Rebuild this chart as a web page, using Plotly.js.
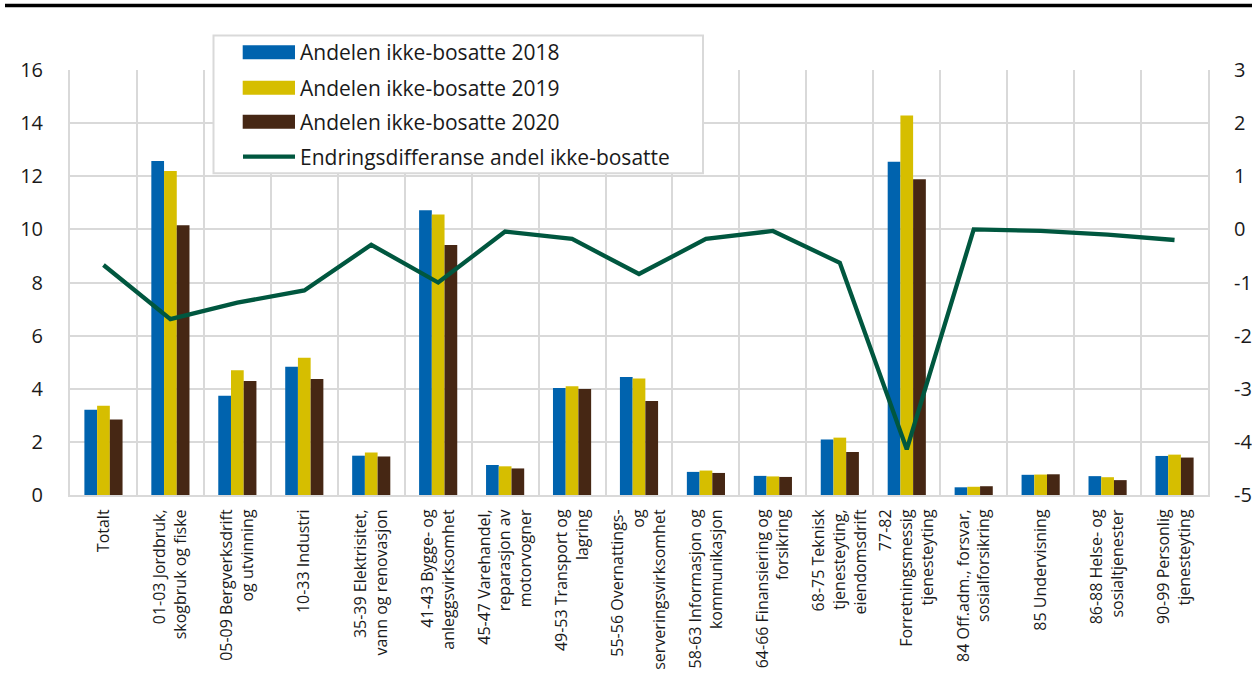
<!DOCTYPE html>
<html>
<head>
<meta charset="utf-8">
<script src="https://cdn.plot.ly/plotly-3.0.1.min.js"></script>
<style>html,body{margin:0;padding:0;background:#fff;}#chart{width:1252px;height:673px;}</style>
</head>
<body>
<div id="chart"></div>
<script>
const categories = ["Totalt","01-03","05-09","10-33","35-39","41-43","45-47","49-53","55-56","58-63","64-66","68-75","77-82","84","85","86-88","90-99"];
const tickLabels = [
  "Totalt",
  "01-03 Jordbruk,<br>skogbruk og fiske",
  "05-09 Bergverksdrift<br>og utvinning",
  "10-33 Industri",
  "35-39 Elektrisitet,<br>vann og renovasjon",
  "41-43 Bygge- og<br>anleggsvirksomhet",
  "45-47 Varehandel,<br>reparasjon av<br>motorvogner",
  "49-53 Transport og<br>lagring",
  "55-56 Overnattings-<br>og<br>serveringsvirksomhet",
  "58-63 Informasjon og<br>kommunikasjon",
  "64-66 Finansiering og<br>forsikring",
  "68-75 Teknisk<br>tjenesteyting,<br>eiendomsdrift",
  "77-82<br>Forretningsmessig<br>tjenesteyting",
  "84 Off.adm., forsvar,<br>sosialforsikring",
  "85 Undervisning",
  "86-88 Helse- og<br>sosialtjenester",
  "90-99 Personlig<br>tjenesteyting"
];
const share2018 = [3.21,12.57,3.74,4.83,1.48,10.72,1.13,4.03,4.44,0.87,0.72,2.09,12.55,0.29,0.76,0.71,1.47];
const share2019 = [3.36,12.20,4.70,5.17,1.60,10.56,1.08,4.09,4.39,0.92,0.70,2.16,14.29,0.31,0.77,0.67,1.52];
const share2020 = [2.84,10.16,4.29,4.37,1.45,9.41,1.00,3.99,3.54,0.83,0.68,1.62,11.89,0.33,0.78,0.56,1.41];
const changeDiff = [-0.67,-1.69,-1.38,-1.15,-0.29,-1.00,-0.04,-0.18,-0.84,-0.18,-0.03,-0.63,-4.14,0.00,-0.03,-0.10,-0.20];
const seriesNames = ["Andelen ikke-bosatte 2018","Andelen ikke-bosatte 2019","Andelen ikke-bosatte 2020","Endringsdifferanse andel ikke-bosatte"];
const leftTicks = [0,2,4,6,8,10,12,14,16];
const rightTickVals = [-5,-4,-3,-2,-1,0,1,2,3];
const rightTickText = ["-5","-4","-3","-2","-1","0","1","2","3"];

const colors = ["#0063AE","#D6BE00","#462714","#00573F"];
const FONT = "Open Sans, Noto Sans, sans-serif";

const traces = [
  {type:"bar", x:categories, y:share2018, name:seriesNames[0], marker:{color:colors[0]}, showlegend:false},
  {type:"bar", x:categories, y:share2019, name:seriesNames[1], marker:{color:colors[1]}, showlegend:false},
  {type:"bar", x:categories, y:share2020, name:seriesNames[2], marker:{color:colors[2]}, showlegend:false},
  {type:"scatter", mode:"lines", x:categories, y:changeDiff, name:seriesNames[3], yaxis:"y2",
   line:{color:colors[3], width:4.3}, showlegend:false}
];

// plot area geometry (pixels) used to place custom legend in paper coords
const L=70, R=1208, T=70, B=495.5;
const px = v => (v-L)/(R-L);
const py = v => (B-v)/(B-T);

const shapes = [
  {type:"line", xref:"paper", yref:"paper", x0:px(5), x1:px(1252), y0:py(5.5), y1:py(5.5), line:{color:"#000", width:3.5}},
  {type:"rect", xref:"paper", yref:"paper", x0:px(213.5), x1:px(703), y0:py(173.3), y1:py(35.5),
   fillcolor:"#fff", line:{color:"#d9d9d9", width:2}, layer:"above"}
];
const annotations = [];
const rowY = [52.3, 87.7, 121.7, 156.7];
for (let i=0;i<4;i++){
  if (i<3){
    shapes.push({type:"rect", xref:"paper", yref:"paper", x0:px(242.7), x1:px(295), y0:py(rowY[i]+7), y1:py(rowY[i]-7),
      fillcolor:colors[i], line:{width:0}, layer:"above"});
  } else {
    shapes.push({type:"line", xref:"paper", yref:"paper", x0:px(243), x1:px(295), y0:py(rowY[i]), y1:py(rowY[i]),
      line:{color:colors[i], width:4.3}, layer:"above"});
  }
  annotations.push({xref:"paper", yref:"paper", x:px(298), y:py(rowY[i]), xanchor:"left", yanchor:"middle",
    text:seriesNames[i], showarrow:false, font:{family:FONT, size:21, color:"#1a1a1a"}});
}

const layout = {
  width:1252, height:673,
  margin:{l:L, r:1252-R, t:T, b:673-B, pad:0},
  paper_bgcolor:"#fff", plot_bgcolor:"#fff",
  barmode:"group", bargap:0.43, bargroupgap:0,
  showlegend:false,
  font:{family:FONT, color:"#1a1a1a"},
  xaxis:{type:"category", tickmode:"array", tickvals:categories, ticktext:tickLabels,
    tickangle:-90, tickson:"boundaries", showgrid:true, gridcolor:"#d9d9d9", gridwidth:2,
    showline:true, linecolor:"#d9d9d9", linewidth:2, mirror:false, ticks:"", ticklabelstandoff:6,
    tickfont:{family:FONT, size:16, color:"#1a1a1a"}, zeroline:false, fixedrange:true},
  yaxis:{range:[0,16], tickvals:leftTicks, showgrid:true, gridcolor:"#d9d9d9", gridwidth:2,
    showline:true, linecolor:"#d9d9d9", linewidth:2, zeroline:false, ticks:"", ticklabelstandoff:21,
    tickfont:{family:FONT, size:20, color:"#1a1a1a"}},
  yaxis2:{overlaying:"y", side:"right", range:[-5,3], tickmode:"array", tickvals:rightTickVals, ticktext:rightTickText,
    showgrid:false, zeroline:false, showline:true, linecolor:"#d9d9d9", linewidth:2, ticks:"", ticklabelstandoff:20,
    tickfont:{family:FONT, size:20, color:"#1a1a1a"}},
  shapes:shapes,
  annotations:annotations
};

Plotly.newPlot("chart", traces, layout, {staticPlot:true});
</script>
</body>
</html>
